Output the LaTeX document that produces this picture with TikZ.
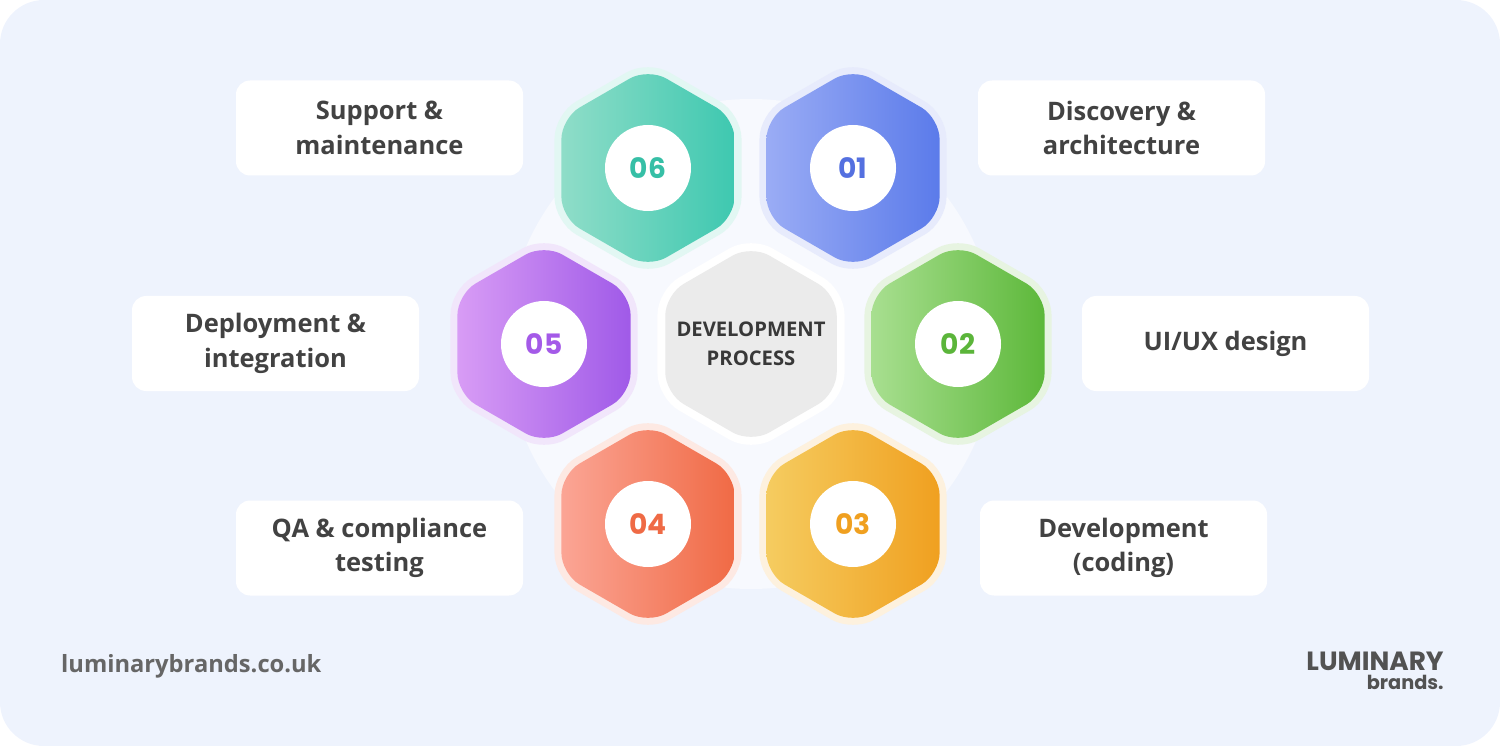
\documentclass[tikz,border=0pt]{standalone}
\usepackage{fontspec}
\setmainfont{Open Sans}
\newfontfamily\numfont{Poppins}
\begin{document}
\begin{tikzpicture}[x=0.02cm,y=-0.02cm,
  lbl/.style={rounded corners=8pt,fill=white,minimum width=287*0.02cm,minimum height=95*0.02cm,align=center,font=\fontsize{14.5}{19.5}\selectfont\bfseries,text=black!74},
  num/.style={circle,fill=white,minimum size=86*0.02cm,inner sep=0pt,font=\numfont\fontsize{16}{18}\selectfont\bfseries}]
\definecolor{bg}{HTML}{EEF3FD}
\useasboundingbox (0,0) rectangle (1500,746);
\fill[bg,rounded corners=25pt] (0,0) rectangle (1500,746);
\fill[white!50!bg] (751,344) circle (245);
\newcommand\hexa[2]{(#1)+(90:#2) -- +(150:#2) -- +(210:#2) -- +(270:#2) -- +(330:#2) -- +(30:#2) -- cycle}
\foreach \n/\x/\y/\l/\r in {h1/853/168/9AACF5/5B7BEA,h2/958/344/A8DF90/5DB83A,h3/853/524/F5CC60/F0A020,h4/648/524/FBA595/F06A45,h5/544/344/D89CF5/A05AE8,h6/648/168/8FDDC8/3EC8B0}{
  \coordinate (\n) at (\x,\y);
  \definecolor{L}{HTML}{\l}\definecolor{R}{HTML}{\r}
  \fill[R!15!white,rounded corners=14pt] \hexa{\n}{108};
  \shade[left color=L,right color=R,rounded corners=12pt] \hexa{\n}{100};
}
\coordinate (hc) at (751,344);
\fill[white,rounded corners=14pt] \hexa{hc}{108};
\fill[black!8,rounded corners=12pt] \hexa{hc}{99};
\node[align=center,font=\fontsize{11.5}{16.5}\selectfont\bfseries,text=black!78] (ct) at (hc) {DEVELOPMENT\\PROCESS};
\node[num,text={rgb,255:red,84;green,112;blue,224}] (n1) at (h1) {01};
\node[num,text={rgb,255:red,91;green,181;blue,58}] (n2) at (h2) {02};
\node[num,text={rgb,255:red,240;green,160;blue,32}] (n3) at (h3) {03};
\node[num,text={rgb,255:red,239;green,106;blue,69}] (n4) at (h4) {04};
\node[num,text={rgb,255:red,164;green,90;blue,232}] (n5) at (h5) {05};
\node[num,text={rgb,255:red,54;green,191;blue,166}] (n6) at (h6) {06};
\node[lbl] (b6) at (379.5,128) {Support \&\\maintenance};
\node[lbl] (b1) at (1121.5,128) {Discovery \&\\architecture};
\node[lbl] (b5) at (275.5,343.5) {Deployment \&\\integration};
\node[lbl] (b2) at (1225.5,343.5) {UI/UX design};
\node[lbl] (b4) at (379.5,548) {QA \& compliance\\testing};
\node[lbl] (b3) at (1123.5,548) {Development\\(coding)};
\node[anchor=west,font=\fontsize{13.5}{16}\selectfont\bfseries,text=black!60] (url) at (55,666) {luminarybrands.co.uk};
\node[anchor=east,font=\numfont\fontsize{15}{15}\selectfont\bfseries,text=black!68,inner sep=0pt] (lg1) at (1444,661) {LUMINARY};
\node[anchor=north east,font=\numfont\fontsize{11}{12}\selectfont\bfseries,text=black!68,inner sep=0pt] (lg2) at (1444,675) {brands.};
\end{tikzpicture}
\end{document}
